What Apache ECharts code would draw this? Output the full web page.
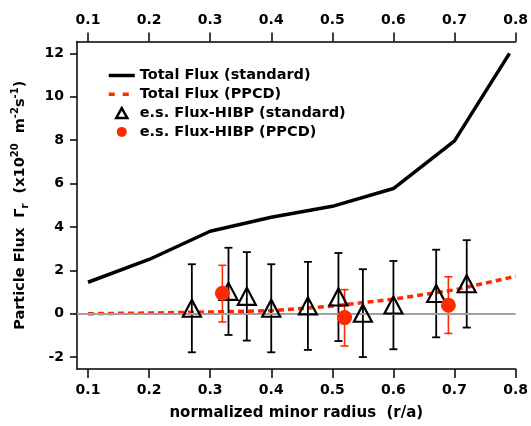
<!DOCTYPE html>
<html>
<head>
<meta charset="utf-8">
<script src="https://cdn.jsdelivr.net/npm/echarts@6/dist/echarts.min.js"></script>
<style>
  html, body { margin: 0; padding: 0; background: #fff; }
  #chart { width: 531px; height: 426px; }
</style>
</head>
<body>
<div id="chart"></div>
<script>
const FONT = 'DejaVu Sans, Liberation Sans, Arial, sans-serif';
const RED = '#ff2a00';

// total flux curves
const totalStdR = [0.1, 0.2, 0.3, 0.4, 0.5, 0.6, 0.7, 0.79];
const totalStdFlux = [1.45, 2.5, 3.8, 4.45, 4.95, 5.77, 7.97, 12.0];
const totalPpcdR = [0.1, 0.2, 0.3, 0.4, 0.5, 0.6, 0.7, 0.8];
const totalPpcdFlux = [0, 0.03, 0.08, 0.14, 0.35, 0.67, 1.1, 1.72];

// HIBP electrostatic flux, standard
const esStdR = [0.27, 0.33, 0.36, 0.40, 0.46, 0.51, 0.55, 0.60, 0.67, 0.72];
const esStdFlux = [0.25, 1.03, 0.8, 0.25, 0.36, 0.77, 0.02, 0.4, 0.93, 1.38];
const esStdHigh = [2.28, 3.04, 2.84, 2.28, 2.39, 2.8, 2.05, 2.43, 2.95, 3.39];
const esStdLow = [-1.78, -0.98, -1.24, -1.78, -1.67, -1.26, -2.0, -1.64, -1.09, -0.64];

// HIBP electrostatic flux, PPCD
const esPpcdR = [0.32, 0.52, 0.69];
const esPpcdFlux = [0.94, -0.18, 0.39];
const esPpcdHigh = [2.23, 1.11, 1.7];
const esPpcdLow = [-0.38, -1.49, -0.91];

const xTicks = [0.1, 0.2, 0.3, 0.4, 0.5, 0.6, 0.7, 0.8];
const yTicks = [-2, 0, 2, 4, 6, 8, 10, 12];

const zip = (a, b) => a.map((v, i) => [v, b[i]]);
const zip3 = (a, b, c) => a.map((v, i) => [v, b[i], c[i]]);

function errorBar(color, width, cap) {
  return function (params, api) {
    const x = api.value(0);
    const lo = api.coord([x, api.value(1)]);
    const hi = api.coord([x, api.value(2)]);
    const style = { stroke: color, lineWidth: width, fill: null };
    return {
      type: 'group',
      children: [
        { type: 'line', shape: { x1: lo[0], y1: lo[1], x2: hi[0], y2: hi[1] }, style },
        { type: 'line', shape: { x1: hi[0] - cap, y1: hi[1], x2: hi[0] + cap, y2: hi[1] }, style },
        { type: 'line', shape: { x1: lo[0] - cap, y1: lo[1], x2: lo[0] + cap, y2: lo[1] }, style },
      ],
    };
  };
}

const tickStyle = { fontFamily: FONT, fontWeight: 'bold', fontSize: 14, color: '#000' };
const textStyle = { fontFamily: FONT, fontWeight: 'bold', fontSize: 14.5, color: '#000' };
const axisLine = { show: true, onZero: false, lineStyle: { color: '#000', width: 1.5 } };

function xAxis(pos) {
  return {
    type: 'value',
    position: pos,
    min: 0.082,
    max: 0.8,
    axisLine,
    axisTick: { show: true, inside: false, length: 9, customValues: xTicks, lineStyle: { color: '#000', width: 1.5 } },
    axisLabel: Object.assign({ customValues: xTicks, margin: 14, formatter: v => v.toFixed(1) }, tickStyle),
    splitLine: { show: false },
  };
}

const chart = echarts.init(document.getElementById('chart'));
chart.setOption({
  animation: false,
  backgroundColor: '#fff',
  grid: { left: 77, right: 12, top: 41.5, bottom: 53.5, containLabel: false },
  legend: {
    orient: 'vertical',
    left: 107,
    top: 68,
    padding: 0,
    itemWidth: 26,
    itemHeight: 10,
    itemGap: 3.8,
    textStyle,
    data: [
      { name: 'Total Flux (standard)', itemStyle: { opacity: 0 }, lineStyle: { width: 3.5 } },
      { name: 'Total Flux (PPCD)', itemStyle: { opacity: 0 }, lineStyle: { width: 3.5, type: [6, 8] } },
      { name: 'e.s. Flux-HIBP (standard)', icon: 'path://M5,0L10,9L0,9Z', itemStyle: { borderWidth: 2.5 } },
      { name: 'e.s. Flux-HIBP (PPCD)', icon: 'path://M4,0A4,4,0,1,1,4,8A4,4,0,1,1,4,0Z' },
    ],
  },
  xAxis: [
    Object.assign(xAxis('bottom'), {
      name: 'normalized minor radius  (r/a)',
      nameLocation: 'middle',
      nameGap: 37,
      nameTextStyle: Object.assign({}, textStyle, { fontSize: 15 }),
    }),
    xAxis('top'),
  ],
  yAxis: {
    type: 'value',
    min: -2.55,
    max: 12.55,
    axisLine,
    axisTick: { show: true, length: 7, customValues: yTicks, lineStyle: { color: '#000', width: 1.5 } },
    axisLabel: Object.assign({ customValues: yTicks, margin: 13 }, tickStyle),
    splitLine: { show: false },
    name: '{a|Particle Flux  Γ}{sub|r}{a|  (x10}{sup|20}{a|  m}{sup|-2}{a|s}{sup|-1}{a|)}',
    nameLocation: 'middle',
    nameRotate: 90,
    nameGap: 47,
    nameTextStyle: {
      rich: {
        a: { fontFamily: FONT, fontWeight: 'bold', fontSize: 14.5, color: '#000', lineHeight: 20, verticalAlign: 'middle' },
        sub: { fontFamily: FONT, fontWeight: 'bold', fontSize: 10, color: '#000', lineHeight: 20, verticalAlign: 'bottom' },
        sup: { fontFamily: FONT, fontWeight: 'bold', fontSize: 10, color: '#000', lineHeight: 20, verticalAlign: 'top' },
      },
    },
  },
  series: [
    {
      name: 'zero',
      type: 'line',
      data: [],
      markLine: {
        silent: true,
        symbol: 'none',
        label: { show: false },
        lineStyle: { color: '#a0a0a0', width: 2, type: 'solid' },
        data: [{ yAxis: 0 }],
      },
      z: 1,
    },
    {
      name: 'Total Flux (standard)',
      type: 'line',
      data: zip(totalStdR, totalStdFlux),
      symbol: 'none',
      lineStyle: { color: '#000', width: 3.5 },
      itemStyle: { color: '#000' },
      z: 3,
    },
    {
      name: 'Total Flux (PPCD)',
      type: 'line',
      data: zip(totalPpcdR, totalPpcdFlux),
      symbol: 'none',
      lineStyle: { color: RED, width: 3.5, type: [6, 4] },
      itemStyle: { color: RED },
      z: 3,
    },
    {
      name: 'err-std',
      type: 'custom',
      renderItem: errorBar('#000', 1.8, 4),
      data: zip3(esStdR, esStdLow, esStdHigh),
      z: 4,
    },
    {
      name: 'err-ppcd',
      type: 'custom',
      renderItem: errorBar(RED, 1.6, 4),
      data: zip3(esPpcdR, esPpcdLow, esPpcdHigh),
      z: 4,
    },
    {
      name: 'e.s. Flux-HIBP (standard)',
      type: 'scatter',
      data: zip(esStdR, esStdFlux),
      symbol: 'triangle',
      symbolSize: [18, 17],
      itemStyle: { color: 'rgba(0,0,0,0)', borderColor: '#000', borderWidth: 2.2, opacity: 1 },
      z: 5,
    },
    {
      name: 'e.s. Flux-HIBP (PPCD)',
      type: 'scatter',
      data: zip(esPpcdR, esPpcdFlux),
      symbol: 'circle',
      symbolSize: 15,
      itemStyle: { color: RED, opacity: 1 },
      z: 5,
    },
  ],
});
</script>
</body>
</html>
